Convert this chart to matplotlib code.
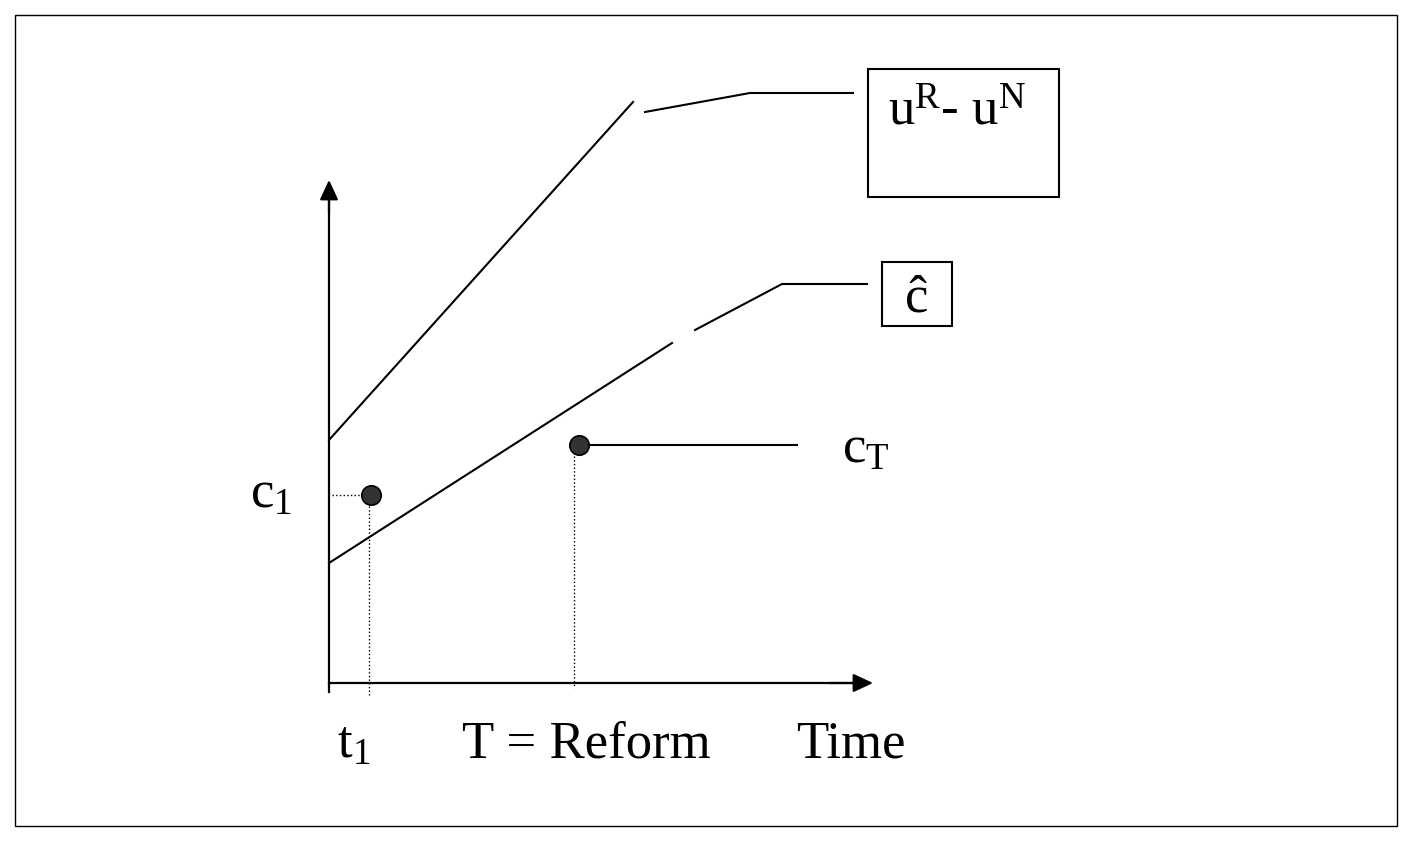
import numpy as np
import matplotlib
matplotlib.use("Agg")
import matplotlib.pyplot as plt
import matplotlib.patches as patches

plt.rcParams['font.family'] = ['Liberation Serif', 'DejaVu Serif']
plt.rcParams['mathtext.fontset'] = 'custom'
plt.rcParams['mathtext.rm'] = 'Liberation Serif'
plt.rcParams['mathtext.it'] = 'Liberation Serif'

###########################################
# DIAGRAM DATA (time, value) - origin at the axes corner
###########################################
# u^R - u^N line and its leader to the label box
u_line_t = [0, 304]
u_line_v = [243, 581]
u_lead_t = [316, 421, 524]
u_lead_v = [571, 590, 590]

# c-hat line and its leader
chat_line_t = [0, 343]
chat_line_v = [120, 340]
chat_lead_t = [366, 453, 538]
chat_lead_v = [353, 399, 399]

# points c1 (at t1) and cT (at reform)
c1_t, c1_v = 42, 188
cT_t, cT_v = 250, 238
cT_lead_end = 468

# label boxes: (t0, v0, width, height)
u_box = (539, 486, 191, 128)
chat_box = (553, 357, 70, 64)

fs = 38

fig = plt.figure(figsize=(14.06, 8.42), dpi=100)
ax = fig.add_axes([0, 0, 1, 1])
ax.set_xlim(-329, 1406 - 329)
ax.set_ylim(683 - 842, 683)
ax.axis('off')

# outer frame
fig.patches.append(patches.Rectangle((15 / 1406., 16 / 842.), 1382 / 1406., 811 / 842.,
                                     transform=fig.transFigure, fill=False,
                                     edgecolor='k', lw=1.0))

# axes with arrows
ax.plot([0, 0], [-9, 490], color='k', lw=1.6)
ax.annotate('', xy=(0, 503), xytext=(0, 470),
            arrowprops=dict(arrowstyle='-|>,head_length=0.6,head_width=0.28',
                            mutation_scale=20, lw=1.6, color='k', shrinkA=0, shrinkB=0))
ax.plot([0, 530], [0, 0], color='k', lw=1.6)
ax.annotate('', xy=(544, 0), xytext=(500, 0),
            arrowprops=dict(arrowstyle='-|>,head_length=0.6,head_width=0.28',
                            mutation_scale=20, lw=1.6, color='k', shrinkA=0, shrinkB=0))

# lines
ax.plot(u_line_t, u_line_v, color='k', lw=1.5)
ax.plot(u_lead_t, u_lead_v, color='k', lw=1.5)
ax.plot(chat_line_t, chat_line_v, color='k', lw=1.5)
ax.plot(chat_lead_t, chat_lead_v, color='k', lw=1.5)
ax.plot([cT_t, cT_lead_end], [cT_v, cT_v], color='k', lw=1.5)

# dotted guides
ax.plot([3, c1_t], [c1_v, c1_v], color='k', lw=1.0, ls=':')
ax.plot([c1_t - 2, c1_t - 2], [c1_v, -12], color='k', lw=1.0, ls=':')
ax.plot([cT_t - 5, cT_t - 5], [cT_v, -5], color='k', lw=1.0, ls=':')

# dots
ax.plot([c1_t], [c1_v], 'o', ms=14, mfc='#333333', mec='k', mew=1.2, zorder=5)
ax.plot([cT_t], [cT_v], 'o', ms=14, mfc='#333333', mec='k', mew=1.2, zorder=5)

# boxes
for b in (u_box, chat_box):
    ax.add_patch(patches.Rectangle((b[0], b[1]), b[2], b[3], fill=False,
                                   edgecolor='k', lw=1.5))

# labels
ax.text(559, 558, r'u$^{\mathrm{R}}$- u$^{\mathrm{N}}$', fontsize=fs,
        ha='left', va='baseline')
ax.text(588, 385, u'\u0109', fontsize=fs, ha='center', va='center')
ax.text(-79, 188, r'c$_{1}$', fontsize=fs, ha='left', va='center')
ax.text(513, 233, r'c$_{\mathrm{T}}$', fontsize=fs, ha='left', va='center')
ax.text(8, -62, r't$_{1}$', fontsize=fs, ha='left', va='center')
ax.text(257, -62, 'T = Reform', fontsize=fs, ha='center', va='center')
ax.text(522, -62, 'Time', fontsize=fs, ha='center', va='center')

fig.savefig('out.png', dpi=100)
